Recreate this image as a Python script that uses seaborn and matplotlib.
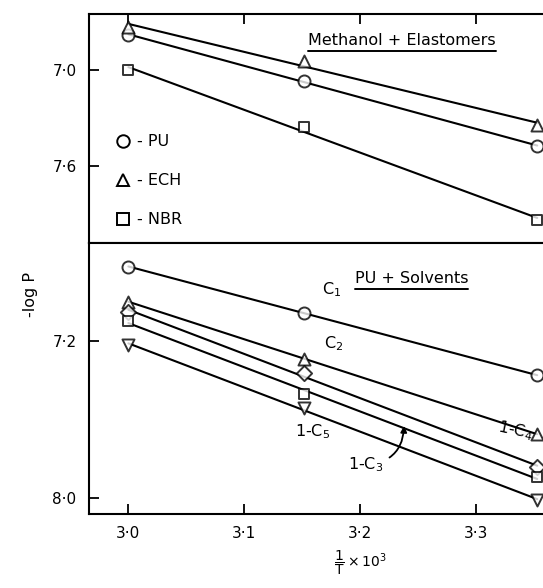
import numpy as np
import pandas as pd
import matplotlib
matplotlib.use("Agg")
import matplotlib.pyplot as plt
from matplotlib.lines import Line2D
import seaborn as sns

# ---------------- data ----------------
inv_T = [3.0, 3.152, 3.353]

# top panel: Methanol + Elastomers
pu_vals = [6.781, 7.069, 7.475]
ech_vals = [6.731, 6.944, 7.344]
nbr_vals = [7.000, 7.356, 7.938]

# bottom panel: PU + Solvents
c1_vals = [6.825, 7.058, 7.377]
c2_vals = [7.003, 7.291, 7.676]
c4_vals = [7.053, 7.367, 7.843]
c3_vals = [7.099, 7.473, 7.894]
c5_vals = [7.220, 7.544, 8.010]

x_ticks = [3.0, 3.1, 3.2, 3.3]
x_tick_labels = ["3·0", "3·1", "3·2", "3·3"]
top_y_ticks = [7.0, 7.6]
top_y_tick_labels = ["7·0", "7·6"]
bot_y_ticks = [7.2, 8.0]
bot_y_tick_labels = ["7·2", "8·0"]

# ---------------- style ----------------
sns.set_style("ticks")
plt.rcParams['font.family'] = ['DejaVu Sans']
plt.rcParams['axes.linewidth'] = 1.5
for k in ("text.color", "axes.labelcolor", "xtick.color", "ytick.color", "axes.edgecolor"):
    plt.rcParams[k] = "black"

W, H = 543, 588
fig = plt.figure(figsize=(W / 100, H / 100), dpi=100)

def fx(px):
    return px / W

def fy(py):
    return 1 - py / H

left, right = 89, 543
ax_top = fig.add_axes([fx(left), fy(243), fx(right) - fx(left), fy(14) - fy(243)])
ax_bot = fig.add_axes([fx(left), fy(514), fx(right) - fx(left), fy(243) - fy(514)])

xlim = (2.966, 3.358)
line_kws = dict(color="black", lw=1.5)

def series(ax, vals, marker, ms=75):
    df = pd.DataFrame({"x": inv_T, "y": vals})
    sns.regplot(data=df, x="x", y="y", ax=ax, ci=None, marker=marker,
                line_kws=line_kws,
                scatter_kws=dict(facecolors="white", edgecolors="black",
                                 s=ms, linewidths=1.4, zorder=3))

series(ax_top, pu_vals, "o")
series(ax_top, ech_vals, "^")
series(ax_top, nbr_vals, "s", ms=55)

series(ax_bot, c1_vals, "o")
series(ax_bot, c2_vals, "^")
series(ax_bot, c4_vals, "D", ms=60)
series(ax_bot, c3_vals, "s", ms=50)
series(ax_bot, c5_vals, "v")

for ax in (ax_top, ax_bot):
    ax.set_xlim(*xlim)
    ax.set_xlabel("")
    ax.set_ylabel("")
    ax.spines["right"].set_visible(False)
    ax.set_xticks(x_ticks)
    ax.tick_params(direction="in", length=7, width=1.3, labelsize=11, pad=9,
                   color="black", labelcolor="black")

ax_top.set_ylim(8.081, 6.65)
ax_bot.set_ylim(8.081, 6.704)
ax_top.set_yticks(top_y_ticks)
ax_top.set_yticklabels(top_y_tick_labels)
ax_bot.set_yticks(bot_y_ticks)
ax_bot.set_yticklabels(bot_y_tick_labels)

ax_top.tick_params(axis="x", bottom=False, top=True, labelbottom=False)
ax_bot.tick_params(axis="x", bottom=True, top=False)
ax_bot.set_xticklabels(x_tick_labels)

# legend in top panel
handles = [
    Line2D([], [], ls="none", marker="o", mfc="white", mec="black", ms=9, mew=1.4),
    Line2D([], [], ls="none", marker="^", mfc="white", mec="black", ms=9, mew=1.4),
    Line2D([], [], ls="none", marker="s", mfc="white", mec="black", ms=8, mew=1.4),
]
ax_top.legend(handles, ["- PU", "- ECH", "- NBR"], loc="upper left",
              bbox_to_anchor=(0.06, 0.475), frameon=False, fontsize=11.5,
              handlelength=0.8, handletextpad=0.5, labelspacing=1.5,
              borderaxespad=0, borderpad=0)

# titles with underline
t1 = ax_top.text(0.69, 0.885, "Methanol + Elastomers", transform=ax_top.transAxes,
                 ha="center", va="center", fontsize=11.5)
t2 = ax_bot.text(0.71, 0.87, "PU + Solvents", transform=ax_bot.transAxes,
                 ha="center", va="center", fontsize=11.5)

# series labels
ax_bot.annotate("C$_1$", xy=(inv_T[1], c1_vals[1]), xytext=(13, 10),
                textcoords="offset points", fontsize=11.5, ha="left", va="bottom")
ax_bot.annotate("C$_2$", xy=(inv_T[1], c2_vals[1]), xytext=(14, 4),
                textcoords="offset points", fontsize=11.5, ha="left", va="bottom")
ax_bot.annotate("1-C$_5$", xy=(inv_T[1], c5_vals[1]), xytext=(6, -10),
                textcoords="offset points", fontsize=11.5, ha="center", va="top")
ax_bot.annotate("1-C$_4$", xy=(inv_T[2], c4_vals[2]), xytext=(-2, 17),
                textcoords="offset points", fontsize=11.5, ha="right", va="bottom",
                rotation=-12)
ax_bot.annotate("1-C$_3$", xy=(3.238, np.interp(3.238, inv_T, c3_vals) - 0.02),
                xytext=(-40, -28), textcoords="offset points", fontsize=11.5,
                ha="left", va="center",
                arrowprops=dict(arrowstyle="-|>", color="black", lw=1.3,
                                connectionstyle="arc3,rad=0.45",
                                shrinkA=2, shrinkB=0, mutation_scale=9))

fig.text(fx(30), fy(295), "-log P", rotation=90, ha="center", va="center", fontsize=11.5)
fig.text(fx(360), fy(563), r"$\dfrac{1}{\mathrm{T}}\times 10^{3}$", ha="center",
         va="center", fontsize=10)

fig.canvas.draw()
r = fig.canvas.get_renderer()
for t in (t1, t2):
    bb = t.get_window_extent(r)
    y = bb.y0 - 3
    fig.add_artist(Line2D([bb.x0 / W, bb.x1 / W], [y / H, y / H],
                          transform=fig.transFigure, color="black", lw=1.4))

fig.savefig("out.png", dpi=100)
